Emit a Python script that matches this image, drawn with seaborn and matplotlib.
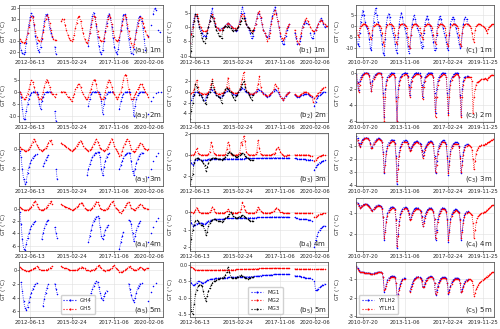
import numpy as np
import pandas as pd
import matplotlib
matplotlib.use("Agg")
import matplotlib.pyplot as plt
from matplotlib.lines import Line2D
import seaborn as sns

N = None
GAP = [N] * 12

# monthly sampling (mid-month)
months_ab = pd.date_range("2011-10-01", "2020-12-01", freq="MS") + pd.Timedelta(days=14)
months_c = pd.date_range("2010-01-01", "2020-09-01", freq="MS") + pd.Timedelta(days=14)

ticks_ab = ["2012-06-13", "2015-02-24", "2017-11-06", "2020-02-06"]
ticks_c = ["2010-07-20", "2013-11-06", "2017-02-24", "2019-11-25"]

# ---------------- column a : GH4 / GH5 (Oct 2011 - Dec 2020) ----------------
gh4_1m = [
    -12, -18, -21,
    -22, -20, -12, -3, 5, 12, 16, 13, 5, -5, -12, -18,
    -20, -15, -8, 0, 8, 14, 15, 10, 2, -3, -6, N,
    -15, -22, N, N, N, N, N, N, N, N, N, N,
    *GAP,
    N, N, -14, -3, 6, 13, 16, 12, 4, -6, -14, -20,
    -22, -18, -10, -1, 7, 13, 15, 11, 3, -7, -15, -20,
    -22, -17, -9, 0, 8, 14, 15, 10, 2, -8, -15, -21,
    -22, -17, -8, 0, 7, 12, 13, 8, 2, -8, -18, N,
    -5, N, 5, N, 15, 20, 18, N, 0, -2, N, N,
]
gh5_1m = [
    -8, -10, -11,
    -12, -11, -8, -3, 3, 9, 13, 12, 6, -1, -6, -9,
    -10, -10, -7, -2, 4, 10, 14, 12, 7, 0, -5, -8,
    -9, -9, N, N, N, 8, 10, 10, 5, 0, -4, -7,
    -9, -10, -8, -4, 2, 7, 12, 13, 8, 2, -3, -8,
    -11, -12, -9, -3, 3, 9, 13, 12, 6, -1, -6, -9,
    -10, -10, -7, -2, 4, 10, 14, 12, 6, -1, -6, -9,
    -10, -9, -6, -1, 5, 10, 14, 12, 6, -1, -7, -12,
    -15, -13, -8, -2, 4, 9, 12, 11, 7, 3, -1, -4,
    -6, N, N, N, N, N, N, N, N, N, N, N,
]
gh4_2m = [
    0, -2, -7,
    -11, -11, -8, -5, -3, -1.5, -0.5, 0, 0, 0, -0.3, -1,
    -5, -7, -4, -2, -1, -0.3, 0, 0, 0, 0, N, N,
    -8, -12, N, N, N, N, N, N, N, N, N, N,
    *GAP,
    N, N, -6, -3, -1, -0.3, 0, 0, 0, 0, 0, -1,
    -4, -9, -5, -2.5, -1, -0.3, 0, 0, 0, 0, N, N,
    N, N, -7, -4, -2, -1, -0.3, 0, 0, 0, 0, N,
    -3, -10, -6, -3, -1.5, -0.5, 0, 0, 0, 0, N, N,
    -9, N, -4, N, -2, N, -0.5, N, 0, N, 0, N,
]
gh5_2m = [
    0, -1, -2,
    -3, -3, -2, -1, 1, 3, 5, 4, 2, 0, -1, -2,
    -3, -3, -2, 0, 2, 4, 5, 4, 2, 0, -1, -1,
    -2, -1, N, N, N, 0, 0, 0, 0, -1, -2, -2,
    -3, -4, -2, -1, 1, 2, 3, 3, 2, 0, -1, -2,
    -3, -3, -2, 0, 1, 3, 5, 5, 3, 0, -1, -2,
    -3, -3, -2, 0, 2, 4, 5, 4, 2, 0, -1, -2,
    -3, -2, -1, 0, 2, 5, 7, 7, 5, 1, -1, -3,
    -3, -2, -1, 0, 1, 2, 3, 3, 2, 1, 0, -1,
    -2, N, N, N, N, N, N, N, N, N, N, N,
]
gh4_3m = [
    -0.5, -2, -5,
    -7.5, -8.5, -8, -6, -4.5, -3.5, -2.8, -2.2, -1.8, -1.5, -1.2, N,
    N, N, N, -4.3, -3.5, -2.7, -2.1, -1.5, N, N, N, N,
    N, -5, -7.5, N, N, N, N, N, N, N, N, N,
    *GAP,
    N, -6.5, -5, -3.8, -2.8, -2, -1.5, -1.1, -0.9, -0.8, -0.8, -2,
    -5, -6.5, -4.5, -3, -2, -1.3, -1, N, N, N, N, N,
    N, N, -5, -4, -3, -2.2, -1.6, -1.2, -1, -0.9, -0.9, -3,
    -5.5, -6.5, -5, -3.5, -2.5, -1.8, -1.3, -1, -0.9, N, N, N,
    -7, N, -5, N, -3, N, -1.8, N, -1.1, N, N, N,
]
gh5_3m = [
    0.5, 0, 0,
    -0.3, -0.5, -0.5, -0.3, 0, 0.5, 1, 1.8, 2.5, 2, 1, 0.5,
    0, -0.3, -0.5, -0.3, 0, 0.3, 0.8, 1.5, 2, 2.2, 1.2, N,
    N, N, N, N, N, 1.5, 1.2, 1, 0.8, 0.5, 0.3, 0,
    -0.2, -0.5, -0.3, 0, 0.3, 0.8, 1.3, 1.8, 2, 1.5, 0.8, 0.3,
    0, -0.3, -0.5, -0.3, 0, 0.5, 1.2, 1.8, 2.5, 1.8, 1, 0.3,
    0, -0.3, -0.5, -0.3, 0, 0.5, 1.2, 1.8, 2.5, 1.8, 0.8, 0,
    -0.5, -1, -1.8, -1.5, -0.5, 0.5, 1.2, 2, 2.5, 2, 1, 0,
    -0.5, -0.8, -0.5, 0, 0.5, 1, 1.5, 1.2, 0.8, 0.3, 0, -0.2,
    0, N, N, N, N, N, N, N, N, N, N, N,
]
gh4_4m = [
    -0.5, -2.5, -5,
    -6.5, -6.8, -5.8, -4.8, -4, -3.3, -2.8, -2.5, -2.2, -2, N, N,
    N, N, -5, -4, -3.2, -2.5, -2, -1.8, N, N, N, N,
    -3, -4, -4.8, N, N, N, N, N, N, N, N, N,
    *GAP,
    N, N, -5.5, -4.5, -3.5, -2.7, -2, -1.6, -1.3, -1.2, -1.5, -3,
    -4.5, -5, -4.2, -3.5, -3, -2.6, N, N, N, N, N, N,
    N, N, -6.5, -5.5, -4.5, -3.8, N, N, N, -1.8, -2, -2.5,
    -4, -5.3, -4.5, -3.5, -2.8, -2.3, -2, N, N, N, N, N,
    -5.5, N, -4, N, -3, N, -2, N, -1.5, N, N, N,
]
gh5_4m = [
    0.3, 0.1, 0,
    -0.1, -0.2, -0.2, -0.1, 0, 0.2, 0.4, 0.7, 1.1, 1.3, 0.8, 0.3,
    0, -0.1, -0.2, -0.1, 0, 0.2, 0.4, 0.7, 1, 1.3, 0.8, N,
    N, N, N, N, N, 0.8, 0.6, 0.5, 0.4, 0.3, 0.2, 0.1,
    0, -0.1, -0.1, 0, 0.1, 0.3, 0.5, 0.8, 1, 1, 0.6, 0.2,
    0, -0.1, -0.2, -0.1, 0, 0.2, 0.5, 0.8, 1.2, 1.2, 0.7, 0.2,
    0, -0.1, -0.2, -0.1, 0, 0.2, 0.5, 0.8, 1.1, 1.3, 0.7, 0.2,
    0, -0.2, -0.5, -0.6, -0.4, -0.1, 0.3, 0.6, 1, 1.2, 0.7, 0.2,
    0, -0.1, -0.1, 0.1, 0.3, 0.6, 0.8, 0.6, 0.4, 0.2, 0.1, 0,
    0, N, N, N, N, N, N, N, N, N, N, N,
]
gh4_5m = [
    N, -1.8, -3,
    -4.5, -5.5, -5.8, -5.3, -4.6, -3.9, -3.3, -2.8, -2.4, -2.1, -1.9, N,
    N, N, N, -5.2, -4.2, -3.3, -2.6, -2.1, N, N, N, N,
    -2, -2.8, -3.5, N, N, N, N, N, N, N, N, N,
    *GAP,
    N, N, -4.7, -4.1, -3.4, -2.8, -2.3, -1.9, -1.7, -1.8, -2.5, -3.3,
    -4, -4.4, -3.8, -3.3, -3, N, N, N, N, N, N, N,
    N, N, N, N, N, N, N, N, N, -2, -2.8, -3.6,
    -4.3, -4.6, -4, -3.3, -2.7, -2.3, -2, -1.9, N, N, N, N,
    -4.5, N, -3.2, N, -2.3, N, -1.9, N, N, N, N, N,
]
gh5_5m = [
    0.4, 0.2, 0.1,
    0, -0.1, -0.2, -0.2, -0.2, -0.1, 0, 0.1, 0.2, 0.3, 0.5, 0.4,
    0.1, 0, -0.1, -0.1, -0.1, 0, 0, 0.1, 0.2, 0.3, 0.5, N,
    N, N, N, N, N, 0.5, 0.4, 0.3, 0.2, 0.2, 0.1, 0,
    0, -0.1, -0.1, -0.1, -0.1, 0, 0.1, 0.2, 0.3, 0.4, 0.3, 0.2,
    0, -0.1, -0.1, -0.2, -0.1, 0, 0, 0.1, 0.3, 0.5, 0.6, 0.4,
    0.2, 0, -0.1, -0.2, -0.1, 0, 0, 0.1, 0.3, 0.5, 0.6, 0.3,
    0.1, -0.1, -0.3, -0.4, -0.3, -0.2, 0, 0.1, 0.2, 0.4, 0.5, 0.3,
    0.1, -0.1, -0.1, 0, 0.1, 0.2, 0.4, 0.3, 0.1, 0, 0.1, 0.2,
    0.3, N, N, N, N, N, N, N, N, N, N, N,
]

# ---------------- column b : MG1 / MG2 / MG3 (same monthly grid) ----------------
mg1_1m = [
    N, N, N,
    N, -5.5, -2, 1, 3, 4.5, 4, 2, 0, -1, -2, -3,
    -3, -3, -2, 0, 2, 5, 6.5, 3, 1, 0, -0.5, -1,
    -1, -0.5, -0.5, 0, 0.5, 1, 1.5, 1, 0.5, 0, -0.5, -1,
    -1.5, -1, 0, 2, 5, 7, 5, 3, 1, 0, -1, -2,
    -4, -3, -1, 1, 3, 5, 4.5, 3, 1, -1, -2, -3,
    -3.5, -3, -1, 2, 4, 6, 7, 5, 2, 0, -3, -5,
    -6, -6, -3, -1, 0, 1, N, N, N, -2, -4, -6,
    -6, -5, -3, 0, 1, 2, 1.5, 1, N, -2, -4, -4,
    -2, -1, 0, 1, 2, 3, 2.5, 1, 0, 0.5, N, N,
]
mg2_1m = [
    N, N, N,
    N, -5.5, -2.5, 0, 2, 4, 4.5, 3, 1, 0, -1, -1.5,
    -1.5, -1.5, -1, 0, 2, 4, 4.5, 3, 1.5, 0, -0.5, -1,
    -1, -1, -0.5, 0, 0.5, 1, 1.5, 1, 0.5, 0, -0.5, -0.5,
    -1, -0.5, 0.5, 2, 4, 4.5, 4, 2.5, 1, 0, -0.5, -1,
    -1.5, -1.5, -0.5, 1, 3, 5, 5.5, 3.5, 1, -1, -2, -3,
    -5, -4, -2, 1, 3, 4.5, 6, 4.5, 2, 0, -2, -4,
    -4.5, -4, -2, -0.5, 0.5, 1, N, N, N, -1, -3, -5,
    -6, -4, -2, 0, 1.5, 2.5, 3, 2, 1, 0, -1, -1.5,
    -1.5, -1, 0, 1, 2, 2.5, 2, 1.5, 1, 0.5, 0.2, N,
]
mg3_1m = [
    N, N, N,
    N, -10, -8.5, -3, 2, 4.5, 4, 2, 0, -2, -4, -5,
    -5.5, -4, -2, 0, 2, 4, 3.5, 2, 0.5, -1, -2, -3,
    -3, -4, -1, 0, 0.5, 0, 0.5, 0, -0.5, -1, -1.5, -1,
    -1, -0.5, 0, 1, 2, 3, 3, 2, 1, 0, -0.5, -1,
    -2, -1, N, N, N, N, N, N, N, N, N, N,
    *GAP, *GAP, *GAP, *GAP,
]
mg1_2m = [
    N, N, N,
    N, -2, -1.5, -0.8, -0.3, 0, 0, 0, -0.2, -0.5, -1, -1.5,
    -1.5, -1, -0.5, -0.2, 0, 0.5, 0.3, 0, -0.2, -0.5, -0.8, -1,
    -1, -0.8, -0.5, -0.2, 0, 0.2, 0.5, 0.3, 0, -0.2, -0.3, -0.5,
    -0.5, -0.3, 0, 0.3, 0.5, 0.8, 0.5, 0.2, 0, -0.2, -0.3, -0.4,
    -0.5, -0.4, -0.2, 0, 0.2, 0.5, 0.4, 0.2, 0, -0.2, -0.4, -0.8,
    -1, -0.8, -0.5, -0.2, 0, 0.2, 0.5, 0.3, 0, -0.3, -0.8, -1.2,
    -1.5, -1.2, -0.8, -0.4, -0.2, 0, N, N, N, -0.5, -0.8, -1,
    -1, -0.8, -0.6, -0.5, -0.4, -0.3, -0.3, -0.4, -0.6, -0.8, -1, N,
    -2.6, -1.8, -1.2, -0.8, -0.5, -0.3, -0.1, 0, 0, N, N, N,
]
mg2_2m = [
    N, N, N,
    N, -0.3, -0.2, 0, 0.5, 1.5, 2.2, 1, 0, -0.2, -0.3, -0.3,
    -0.3, -0.3, -0.2, 0, 0.5, 1.5, 2.4, 1, 0.2, -0.2, -0.3, -0.3,
    -0.3, -0.2, -0.1, 0, 0.3, 1, 2.7, 0.8, 0.2, 0, -0.1, -0.2,
    -0.2, -0.1, 0, 0.5, 1.5, 2.5, 3.7, 1.5, 0.3, 0, -0.2, -0.3,
    -0.3, -0.3, -0.2, 0, 0.5, 1.5, 3, 1, 0, -0.3, -0.5, -0.6,
    -0.8, -0.6, -0.4, -0.2, 0, 0.5, 1.5, 1.2, 0.8, 0, -0.8, -1.2,
    -1.5, -1.2, -0.6, -0.3, -0.1, 0, N, N, N, -0.4, -0.6, -0.8,
    -0.8, -0.6, -0.4, -0.2, 0, 0, 0, -0.1, -0.3, -0.5, -0.8, -1.8,
    -1.2, -0.8, -0.5, -0.2, 0, 0.3, 0.6, 0.8, 1, N, N, N,
]
mg3_2m = [
    N, N, N,
    N, -5, -3.5, -2, -0.5, 1.5, 1, 0, -0.5, -0.5, -1, -1.5,
    -2, -2.2, -1, -0.3, 0, 1, 2, 0.5, 0, -0.5, -0.8, -1,
    -1.2, -2, -0.5, 0, 0.5, 0.8, 0.5, 0.2, 0, -0.5, -1, -1.5,
    -0.8, -0.5, 0, 0.5, 1, 1.5, 2, 1, 0.2, 0, -0.5, -1,
    -1.5, -0.5, N, N, N, N, N, N, N, N, N, N,
    *GAP, *GAP, *GAP, *GAP,
]
mg1_3m = [
    N, N, N,
    N, -0.5, -0.8, -1, -0.7, -0.5, -0.45, -0.4, -0.4, -0.5, -0.55, -0.5,
    -0.45, -0.45, -0.45, -0.4, -0.4, -0.4, -0.4, -0.4, -0.4, -0.4, -0.4, -0.4,
    -0.4, -0.4, -0.4, -0.4, -0.4, -0.38, -0.38, -0.38, -0.38, -0.38, -0.38, -0.38,
    -0.38, -0.38, -0.37, -0.37, -0.36, -0.36, -0.36, -0.35, -0.35, -0.35, -0.35, -0.35,
    -0.35, -0.35, -0.34, -0.34, -0.33, -0.33, -0.32, -0.32, -0.32, -0.31, -0.31, -0.31,
    -0.3, -0.3, -0.3, -0.3, -0.29, -0.29, -0.28, -0.28, -0.28, -0.28, -0.28, -0.28,
    -0.3, -0.3, -0.3, -0.3, -0.3, -0.3, N, N, N, -0.35, -0.35, -0.4,
    -0.42, -0.42, -0.42, -0.42, -0.42, -0.42, -0.45, -0.45, -0.45, -0.45, -0.45, N,
    -1.45, -1.2, -1, -0.85, -0.75, -0.65, -0.6, -0.55, -0.5, N, N, N,
]
mg2_3m = [
    N, N, N,
    N, 0, 0, 0, 0.05, 0.3, 0.6, 0.2, 0.05, 0, 0, 0,
    0, 0, 0, 0.05, 0.3, 1.2, 0.8, 0.2, 0.05, 0, 0, 0,
    0, 0, 0, 0, 0.05, 0.5, 1.2, 0.9, 0.05, 0, 0, 0,
    0, 0, 0.05, 0.2, 1.2, 0.9, 1.8, 1.3, 0.3, 0.05, 0, 0,
    0, 0, 0, 0.05, 0.3, 1.4, 0.6, 0.1, 0, 0, 0, 0,
    0, 0, 0, 0, 0.05, 0.1, 0.2, 0.5, 0.7, 0.5, 0.3, 0.1,
    -0.05, -0.1, -0.1, -0.05, 0, 0, N, N, N, 0, 0, 0,
    0, 0, 0, 0, 0, 0, 0, 0, -0.05, -0.1, -0.1, N,
    -0.6, -0.45, -0.35, -0.25, -0.15, -0.1, -0.05, 0, 0, N, N, N,
]
mg3_3m = [
    N, N, N,
    N, -2.8, -2.3, -1.8, -0.8, -0.4, -0.3, -0.3, -0.4, -0.5, -0.6, -0.8,
    -1, -1.5, -1.2, -0.8, -0.5, -0.4, -0.3, -0.3, -0.3, -0.35, -0.4, -0.4,
    -0.4, -0.45, -0.4, -0.3, -0.2, 0, 0.2, 0.3, 0.2, 0.1, 0, -0.1,
    -0.2, -0.2, -0.1, 0, 0.1, 0.2, 0.1, -0.1, -0.2, -0.3, -0.4, -0.5,
    -0.5, -0.45, N, N, N, N, N, N, N, N, N, N,
    *GAP, *GAP, *GAP, *GAP,
]
mg1_4m = [
    N, N, N,
    N, -0.2, -0.6, -0.8, -0.75, -0.7, -0.65, -0.6, -0.6, -0.6, -0.62, -0.65,
    -0.65, -0.6, -0.55, -0.5, -0.48, -0.45, -0.42, -0.4, -0.4, -0.4, -0.4, -0.4,
    -0.4, -0.4, -0.38, -0.37, -0.36, -0.35, -0.35, -0.35, -0.35, -0.35, -0.35, -0.35,
    -0.35, -0.35, -0.34, -0.34, -0.33, -0.33, -0.32, -0.32, -0.32, -0.32, -0.32, -0.32,
    -0.32, -0.32, -0.31, -0.31, -0.3, -0.3, -0.3, -0.3, -0.3, -0.3, -0.3, -0.3,
    -0.29, -0.29, -0.28, -0.28, -0.27, -0.27, -0.27, -0.27, -0.27, -0.27, -0.27, -0.27,
    -0.28, -0.28, -0.28, -0.28, -0.28, -0.28, N, N, N, -0.3, -0.32, -0.35,
    -0.38, -0.4, -0.4, -0.4, -0.4, -0.4, -0.4, -0.42, -0.42, -0.45, -0.5, N,
    -2, -1.6, -1.35, -1.15, -1, -0.9, -0.85, -0.8, -0.78, N, N, N,
]
mg2_4m = [
    N, N, N,
    N, 0, -0.02, -0.03, 0, 0.1, 0.25, 0.1, 0, -0.03, -0.03, -0.03,
    -0.04, -0.04, -0.04, -0.03, 0, 0.1, 0.3, 0.15, 0, -0.03, -0.03, -0.03,
    -0.03, -0.03, -0.03, -0.03, 0, 0.05, 0.15, 0.05, 0, -0.03, -0.03, -0.03,
    -0.03, -0.03, -0.02, 0, 0.15, 0.55, 0.35, 0.1, 0, -0.03, -0.03, -0.03,
    -0.04, -0.04, -0.03, 0, 0.1, 0.3, 0.2, 0.05, 0, -0.03, -0.03, -0.03,
    -0.04, -0.04, -0.03, -0.02, 0, 0.05, 0.15, 0.25, 0.2, 0.1, 0.02, -0.02,
    -0.05, -0.06, -0.06, -0.05, -0.04, -0.04, N, N, N, -0.05, -0.05, -0.05,
    -0.06, -0.06, -0.06, -0.06, -0.06, -0.06, -0.06, -0.06, -0.06, -0.06, -0.06, N,
    -0.3, -0.25, -0.2, -0.15, -0.12, -0.1, -0.08, -0.07, -0.06, N, N, N,
]
mg3_4m = [
    N, N, N,
    N, -2.1, -1.5, -1, -0.7, -0.5, -0.45, -0.5, -0.6, -0.7, -0.7, -0.8,
    -1, -1.3, -1.1, -0.8, -0.6, -0.5, -0.45, -0.4, -0.4, -0.45, -0.5, -0.5,
    -0.5, -0.55, -0.5, -0.4, -0.35, -0.3, -0.2, -0.1, 0, -0.1, -0.2, -0.3,
    -0.35, -0.35, -0.3, -0.25, -0.2, -0.15, -0.2, -0.3, -0.35, -0.4, -0.45, -0.5,
    -0.5, -0.5, N, N, N, N, N, N, N, N, N, N,
    *GAP, *GAP, *GAP, *GAP,
]
mg1_5m = [
    N, N, N,
    N, -0.4, -0.55, -0.6, -0.6, -0.58, -0.55, -0.5, -0.5, -0.52, -0.55, -0.55,
    -0.52, -0.5, -0.47, -0.45, -0.44, -0.43, -0.42, -0.41, -0.4, -0.4, -0.4, -0.4,
    -0.4, -0.4, -0.39, -0.39, -0.38, -0.38, -0.37, -0.37, -0.37, -0.37, -0.37, -0.37,
    -0.37, -0.37, -0.36, -0.36, -0.35, -0.35, -0.35, -0.35, -0.35, -0.35, -0.35, -0.35,
    -0.35, -0.35, -0.34, -0.34, -0.33, -0.33, -0.32, -0.32, -0.31, -0.31, -0.31, -0.31,
    -0.3, -0.3, -0.3, -0.29, -0.29, -0.28, -0.28, -0.28, -0.28, -0.28, -0.28, -0.28,
    -0.28, -0.28, -0.28, -0.28, -0.28, -0.28, N, N, N, -0.32, -0.33, -0.33,
    -0.33, -0.34, -0.35, -0.36, -0.37, -0.38, -0.39, -0.4, -0.4, -0.4, -0.42, N,
    -0.5, -0.78, -0.76, -0.72, -0.68, -0.65, -0.62, -0.6, -0.58, N, N, N,
]
mg2_5m = [
    N, N, N,
    N, -0.04, -0.05, -0.08, -0.12, -0.14, -0.15, -0.15, -0.15, -0.15, -0.15, -0.15,
    -0.15, -0.15, -0.15, -0.15, -0.15, -0.15, -0.15, -0.15, -0.15, -0.15, -0.15, -0.15,
    -0.14, -0.14, -0.14, -0.14, -0.14, -0.14, -0.14, -0.14, -0.14, -0.14, -0.14, -0.14,
    -0.13, -0.13, -0.13, -0.13, -0.13, -0.13, -0.12, -0.12, -0.12, -0.12, -0.12, -0.12,
    -0.12, -0.12, -0.11, -0.11, -0.11, -0.11, -0.1, -0.1, -0.1, -0.1, -0.1, -0.1,
    -0.1, -0.1, -0.1, -0.1, -0.09, -0.09, -0.09, -0.09, -0.09, -0.09, -0.1, -0.1,
    -0.1, -0.1, -0.1, -0.1, -0.1, -0.1, N, N, N, -0.11, -0.11, -0.11,
    -0.12, -0.12, -0.12, -0.12, -0.12, -0.12, -0.12, -0.12, -0.12, -0.12, -0.12, N,
    -0.13, -0.13, -0.13, -0.12, -0.12, -0.12, -0.12, -0.12, -0.12, N, N, N,
]
mg3_5m = [
    N, N, N,
    N, -0.4, -1.4, -1.5, -1.2, -0.9, -0.75, -0.65, -0.6, -0.6, -0.65, -0.8,
    -1, -1.1, -0.95, -0.8, -0.7, -0.6, -0.55, -0.5, -0.48, -0.45, -0.43, -0.42,
    -0.4, -0.4, -0.38, -0.35, -0.3, -0.2, -0.05, -0.2, -0.35, -0.4, -0.4, -0.4,
    -0.38, -0.36, -0.35, -0.33, -0.3, -0.32, -0.35, -0.38, -0.4, -0.42, -0.4, -0.38,
    -0.36, -0.35, N, N, N, N, N, N, N, N, N, N,
    *GAP, *GAP, *GAP, *GAP,
]

# ---------------- column c : YTLH2 / YTLH1 (Jan 2010 - Sep 2020) ----------------
ytlh2_1m = [
    -6, -8, -9, -3, 2, 5, 7, 5, 2, 0, -1, -3,
    -6, -10, -11, -4, 2, 6, 8, 5, 2, 0, -2, -4,
    -8, -12, -13, -6, 1, 4, 5.5, 4, 1, -1, -3, -5,
    -8, -11, -12, -5, 1, 4, 6, 4, 1, -1, -3, -5,
    -9, -12, -10, -4, 1, 3, 5, 3, 1, -1, -2, -4,
    -7, -10, -9, -3, 1, 3, 4.5, 3, 1, 0, -2, -4,
    -7, -11, -10, -4, 1, 3, 4.5, 3, 1, -1, -3, -5,
    -7, -10, -11, -4, 1, 3, 4, 3, 1, -1, -3, -5,
    -8, -10, -9, -3, 1, 3, 4, 3, 1, N, N, N,
    *GAP,
    N, N, N, N, N, N, N, N, N,
]
ytlh1_1m = [
    -2, -4, -5, -1, 0, 0.5, 1, 1, 0.8, 0.3, 0, -1,
    -3, -5, -6, -2, 0, 0.5, 1, 1, 0.8, 0.3, 0, -1,
    -3, -7, -9, -3, -0.5, 0.5, 1, 1, 0.8, 0.3, 0, -1,
    -4, -7, -8, -3, -0.5, 0.5, 1, 1, 0.8, 0.3, 0, -1,
    -5, -9, -10, -4, -0.5, 0.5, 1, 1, 0.8, 0.3, 0, -1,
    -3, -5, -6, -2, 0, 0.5, 1, 1, 0.8, 0.3, 0, -1,
    -4, -7, -8, -3, -0.5, 0.5, 1, 1, 0.8, 0.3, 0, -1,
    -4, -8, -9, -3, -0.5, 0.5, 1, 1, 0.8, 0.3, 0, -1,
    -4, -8, -9, -3, -0.5, 0.5, 1, 1, 0.8, 0.3, 0, -1,
    -3, -6, -7, -2, 0, 0.5, 1, 1, 0.8, 0.3, 0, -0.5,
    -1, -2, -3, -1.5, -0.5, 0, 0.5, 1, 0.8,
]
ytlh2_2m = [
    -0.2, -1.2, -2.2, -1, -0.5, -0.3, -0.2, -0.1, 0, 0, 0, -0.1,
    -0.3, -1.2, -2.3, -1, -0.5, -0.3, -0.2, -0.1, 0, 0, 0, -0.1,
    -0.5, -2.5, -5.5, -2, -1, -0.6, -0.4, -0.2, -0.1, 0, 0, -0.1,
    -0.5, -3, -6, -2, -1, -0.6, -0.4, -0.2, -0.1, 0, 0, -0.1,
    -0.4, -1.5, -2.8, -1.2, -0.6, -0.4, -0.2, -0.1, 0, 0, 0, -0.1,
    -0.4, -1.5, -3, -1.2, -0.6, -0.4, -0.2, -0.1, 0, 0, 0, -0.1,
    -0.5, -2.5, -5, -2, -1, -0.6, -0.4, -0.2, -0.1, 0, 0, -0.1,
    -0.5, -2.5, -5, -2, -1, -0.6, -0.4, -0.2, -0.1, 0, 0, -0.1,
    -0.5, -2.8, -5.2, -2, -1, -0.6, -0.5, -0.4, -0.4, N, N, N,
    *GAP,
    N, N, N, N, N, N, N, N, N,
]
ytlh1_2m = [
    -0.3, -1.3, -2.4, -1.5, -0.8, -0.5, -0.3, -0.2, -0.1, -0.1, -0.1, -0.2,
    -0.4, -1.3, -2.3, -1.5, -0.8, -0.5, -0.3, -0.2, -0.1, -0.1, -0.1, -0.2,
    -0.6, -3, -6, -3, -1.5, -0.9, -0.6, -0.4, -0.3, -0.2, -0.2, -0.3,
    -0.6, -3.5, -6, -3, -1.5, -0.9, -0.6, -0.4, -0.3, -0.2, -0.2, -0.3,
    -0.5, -1.8, -3, -1.8, -1, -0.6, -0.4, -0.3, -0.2, -0.2, -0.2, -0.3,
    -0.5, -1.8, -3.2, -1.8, -1, -0.6, -0.4, -0.3, -0.2, -0.2, -0.2, -0.3,
    -0.6, -3, -5.5, -3, -1.5, -0.9, -0.6, -0.4, -0.3, -0.2, -0.2, -0.3,
    -0.6, -3, -5.2, -3, -1.5, -0.9, -0.6, -0.4, -0.3, -0.2, -0.2, -0.3,
    -0.6, -3, -5.5, -3, -1.5, -0.9, -0.7, -0.6, -0.5, -0.5, -0.5, -0.6,
    -1, -5, -3, -2, -1.5, -1.2, -1.1, -1, -0.9, -0.8, -0.8, -0.8,
    -0.7, -0.8, -0.9, -0.7, -0.5, -0.4, -0.35, -0.3, -0.3,
]
ytlh2_3m = [
    -0.3, -0.45, -0.8, -1.05, -0.8, -0.6, -0.5, -0.45, -0.4, -0.4, -0.4, -0.45,
    -0.55, -0.8, -1.15, -1.1, -0.85, -0.7, -0.6, -0.5, -0.45, -0.45, -0.5, -0.55,
    -0.7, -1.5, -3.1, -2.2, -1.4, -1, -0.8, -0.7, -0.6, -0.55, -0.55, -0.6,
    -0.8, -1.8, -3.9, -2.5, -1.5, -1.1, -0.9, -0.75, -0.65, -0.6, -0.6, -0.65,
    -0.8, -1.1, -1.3, -1.2, -1, -0.85, -0.75, -0.7, -0.65, -0.65, -0.7, -0.8,
    -0.9, -1.3, -1.8, -1.5, -1.2, -1, -0.85, -0.75, -0.7, -0.65, -0.65, -0.7,
    -0.9, -1.8, -3.1, -2.2, -1.4, -1.05, -0.85, -0.75, -0.65, -0.6, -0.6, -0.7,
    -0.9, -1.8, -3.2, -2.2, -1.4, -1.05, -0.9, -0.8, -0.75, -0.75, -0.75, -0.8,
    -1, -1.8, -3.1, -2.2, -1.5, -1.1, -0.95, -0.9, -0.85, N, N, N,
    *GAP,
    N, N, N, N, N, N, N, N, N,
]
ytlh1_3m = [
    -0.5, -0.6, -0.9, -1.1, -0.9, -0.7, -0.6, -0.5, -0.45, -0.45, -0.45, -0.5,
    -0.6, -0.85, -1.2, -1.15, -0.9, -0.75, -0.65, -0.55, -0.5, -0.5, -0.55, -0.6,
    -0.75, -1.6, -3, -2.5, -1.6, -1.2, -0.95, -0.8, -0.7, -0.65, -0.65, -0.7,
    -0.85, -1.9, -3.7, -2.8, -1.8, -1.3, -1, -0.85, -0.75, -0.7, -0.7, -0.75,
    -0.9, -1.2, -1.4, -1.35, -1.1, -0.95, -0.85, -0.8, -0.75, -0.75, -0.8, -0.85,
    -1, -1.4, -1.9, -1.7, -1.35, -1.1, -0.95, -0.85, -0.8, -0.75, -0.75, -0.8,
    -1, -1.9, -3, -2.5, -1.6, -1.2, -1, -0.85, -0.75, -0.7, -0.7, -0.8,
    -1, -1.9, -3.1, -2.5, -1.6, -1.2, -1, -0.9, -0.85, -0.85, -0.85, -0.9,
    -1.1, -1.9, -3, -2.5, -1.7, -1.3, -1.1, -1, -0.95, -0.95, -1, -1.1,
    -1.3, -2, -2.8, -2.2, -1.6, -1.3, -1.15, -1.05, -1, -0.95, -0.95, -0.95,
    -0.9, -0.85, -0.8, -0.75, -0.7, -0.65, -0.6, -0.55, -0.5,
]
ytlh2_4m = [
    -0.45, -0.5, -0.6, -0.72, -0.68, -0.62, -0.58, -0.55, -0.55, -0.55, -0.56, -0.6,
    -0.65, -0.72, -0.82, -0.85, -0.78, -0.7, -0.65, -0.62, -0.6, -0.6, -0.62, -0.66,
    -0.75, -1.2, -2.3, -1.8, -1.3, -1, -0.85, -0.75, -0.7, -0.68, -0.68, -0.72,
    -0.8, -1.3, -2.7, -2, -1.4, -1.05, -0.9, -0.8, -0.72, -0.7, -0.7, -0.75,
    -0.85, -1, -1.3, -1.2, -1, -0.9, -0.8, -0.75, -0.72, -0.72, -0.75, -0.82,
    -0.9, -1.15, -1.6, -1.4, -1.15, -0.95, -0.85, -0.78, -0.74, -0.72, -0.74, -0.8,
    -0.9, -1.3, -2.3, -1.8, -1.3, -1.05, -0.9, -0.8, -0.74, -0.72, -0.74, -0.8,
    -0.9, -1.3, -2.4, -1.8, -1.3, -1.05, -0.92, -0.85, -0.8, -0.8, -0.82, -0.88,
    -0.95, -1.3, -2.3, -1.8, -1.35, -1.1, -0.98, -0.92, -0.9, N, N, N,
    *GAP,
    N, N, N, N, N, N, N, N, N,
]
ytlh1_4m = [
    -0.48, -0.52, -0.62, -0.74, -0.7, -0.64, -0.6, -0.57, -0.56, -0.56, -0.58, -0.62,
    -0.67, -0.74, -0.84, -0.87, -0.8, -0.72, -0.67, -0.64, -0.62, -0.62, -0.64, -0.68,
    -0.78, -1.2, -2.2, -1.9, -1.45, -1.12, -0.95, -0.84, -0.77, -0.73, -0.72, -0.75,
    -0.83, -1.35, -2.6, -2.1, -1.55, -1.2, -1, -0.88, -0.8, -0.76, -0.75, -0.78,
    -0.88, -1.05, -1.35, -1.28, -1.1, -0.98, -0.88, -0.82, -0.78, -0.77, -0.79, -0.85,
    -0.92, -1.2, -1.6, -1.5, -1.25, -1.05, -0.93, -0.85, -0.8, -0.77, -0.78, -0.83,
    -0.92, -1.3, -2.2, -1.9, -1.45, -1.15, -0.98, -0.87, -0.8, -0.77, -0.78, -0.83,
    -0.93, -1.35, -2.3, -1.9, -1.45, -1.15, -1, -0.92, -0.87, -0.86, -0.87, -0.92,
    -1, -1.35, -2.2, -1.9, -1.5, -1.2, -1.05, -0.98, -0.95, -0.95, -0.97, -1.02,
    -1.1, -1.5, -2.2, -1.8, -1.45, -1.25, -1.15, -1.08, -1.03, -1, -0.98, -0.95,
    -0.92, -0.88, -0.84, -0.8, -0.75, -0.7, -0.65, -0.6, -0.58,
]
ytlh2_5m = [
    -0.25, -0.4, -0.5, -0.58, -0.6, -0.6, -0.6, -0.62, -0.63, -0.65, -0.65, -0.65,
    -0.66, -0.68, -0.7, -0.7, -0.68, -0.65, -0.64, -0.62, -0.6, -0.6, -0.6, -0.6,
    -0.65, -0.9, -1.7, -1.5, -1.25, -1.05, -0.95, -0.88, -0.84, -0.82, -0.82, -0.84,
    -0.9, -1.2, -2.05, -1.8, -1.5, -1.25, -1.1, -1, -0.95, -0.92, N, N,
    N, N, -1.65, -1.45, -1.25, -1.1, -1, -0.92, -0.88, -0.85, -0.85, -0.88,
    -0.92, -1.05, -1.45, -1.35, -1.2, -1.05, -0.95, -0.9, -0.86, -0.84, -0.84, -0.87,
    -0.95, -1.2, -1.85, -1.6, -1.35, -1.15, -1.02, -0.95, -0.9, -0.88, -0.88, -0.9,
    -0.95, -1.2, -1.8, -1.6, -1.35, -1.15, -1.05, -0.98, -0.94, -0.92, -0.92, -0.95,
    -1, -1.2, -1.7, -1.55, -1.35, -1.2, -1.1, -1.02, -0.98, N, N, N,
    *GAP,
    N, N, N, N, N, N, N, N, N,
]
ytlh1_5m = [
    -0.3, -0.42, -0.52, -0.6, -0.62, -0.62, -0.62, -0.63, -0.64, -0.65, -0.66, -0.66,
    -0.67, -0.69, -0.71, -0.72, -0.7, -0.67, -0.65, -0.63, -0.62, -0.61, -0.61, -0.62,
    -0.66, -0.9, -1.6, -1.55, -1.35, -1.15, -1.02, -0.93, -0.88, -0.85, -0.85, -0.86,
    -0.92, -1.2, -1.95, -1.85, -1.6, -1.35, -1.18, -1.06, -1, -0.96, N, N,
    N, N, -1.7, -1.55, -1.35, -1.18, -1.06, -0.98, -0.93, -0.9, -0.9, -0.92,
    -0.96, -1.08, -1.45, -1.42, -1.28, -1.12, -1.02, -0.95, -0.9, -0.88, -0.88, -0.9,
    -0.98, -1.2, -1.8, -1.7, -1.45, -1.23, -1.08, -1, -0.95, -0.92, -0.92, -0.94,
    -0.98, -1.2, -1.75, -1.68, -1.45, -1.25, -1.12, -1.04, -0.99, -0.96, -0.96, -0.98,
    -1.03, -1.22, -1.7, -1.62, -1.45, -1.28, -1.16, -1.08, -1.03, -1, -1, -1.02,
    -1.08, -1.3, -1.9, -1.75, -1.55, -1.4, -1.3, -1.22, -1.15, -1.1, -1.05, -1,
    -0.95, -0.9, -0.85, -0.8, -0.75, -0.7, -0.66, -0.62, -0.6,
]

palette = {"GH4": "blue", "GH5": "red", "MG1": "blue", "MG2": "red", "MG3": "black",
           "YTLH2": "blue", "YTLH1": "red"}

sns.set_style("whitegrid", {"axes.edgecolor": "0.35", "grid.color": "0.88"})
plt.rcParams.update({
    "font.family": ["DejaVu Sans"],
    "font.size": 4,
    "axes.unicode_minus": False,
    "axes.linewidth": 0.6,
    "grid.linewidth": 0.4,
    "xtick.labelsize": 3.8,
    "ytick.labelsize": 3.6,
    "xtick.major.size": 1.5,
    "ytick.major.size": 1.2,
    "xtick.major.width": 0.4,
    "ytick.major.width": 0.4,
    "xtick.major.pad": 1.0,
    "ytick.major.pad": 0.5,
    "xtick.bottom": True,
    "ytick.left": True,
})

fig = plt.figure(figsize=(5, 3.29), dpi=100)
W, H = 500, 329
col_px = [(19, 163), (190, 328), (356, 494)]
row_px = [(5, 57), (69, 122), (133, 186), (198, 251), (262, 317)]
ylabel_x = [-0.066, -0.098, -0.092]

columns = [
    dict(letter="a", dates=months_ab, ticks=ticks_ab, xlim=("2011-09-28", "2020-12-31"),
         series=[[("GH4", gh4_1m), ("GH5", gh5_1m)],
                 [("GH4", gh4_2m), ("GH5", gh5_2m)],
                 [("GH4", gh4_3m), ("GH5", gh5_3m)],
                 [("GH4", gh4_4m), ("GH5", gh5_4m)],
                 [("GH4", gh4_5m), ("GH5", gh5_5m)]],
         ylims=[(-24.5, 23), (-12.4, 9.3), (-9.1, 3.9), (-6.9, 1.8), (-6.8, 1.1)],
         yticks=[[-20, -10, 0, 10, 20], [-10, -5, 0, 5], [-5, 0], [-6, -4, -2, 0], [-6, -4, -2, 0]],
         legend_anchor=(0.27, 0.0)),
    dict(letter="b", dates=months_ab, ticks=ticks_ab, xlim=("2012-02-10", "2020-11-29"),
         series=[[("MG1", mg1_1m), ("MG2", mg2_1m), ("MG3", mg3_1m)],
                 [("MG1", mg1_2m), ("MG2", mg2_2m), ("MG3", mg3_2m)],
                 [("MG1", mg1_3m), ("MG2", mg2_3m), ("MG3", mg3_3m)],
                 [("MG1", mg1_4m), ("MG2", mg2_4m), ("MG3", mg3_4m)],
                 [("MG1", mg1_5m), ("MG2", mg2_5m), ("MG3", mg3_5m)]],
         ylims=[(-10.5, 7.7), (-5.6, 4.3), (-2.95, 2.05), (-2.2, 0.8), (-1.6, 0.1)],
         yticks=[[-10, -5, 0, 5], [-4, -2, 0, 2], [-2, 0, 2], [-2, -1, 0], [-1.5, -1.0, -0.5, 0.0]],
         legend_anchor=(0.40, 0.0)),
    dict(letter="c", dates=months_c, ticks=ticks_c, xlim=("2010-01-01", "2020-10-05"),
         series=[[("YTLH2", ytlh2_1m), ("YTLH1", ytlh1_1m)],
                 [("YTLH2", ytlh2_2m), ("YTLH1", ytlh1_2m)],
                 [("YTLH2", ytlh2_3m), ("YTLH1", ytlh1_3m)],
                 [("YTLH2", ytlh2_4m), ("YTLH1", ytlh1_4m)],
                 [("YTLH2", ytlh2_5m), ("YTLH1", ytlh1_5m)]],
         ylims=[(-14, 9.5), (-6.1, 0.45), (-4.05, -0.05), (-2.85, -0.25), (-3.07, -0.05)],
         yticks=[[-10, -5, 0, 5], [-6, -4, -2, 0], [-4, -3, -2, -1], [-2, -1], [-3, -2, -1]],
         legend_anchor=(0.0, 0.0)),
]
depths = ["1m", "2m", "3m", "4m", "5m"]


def long_frame(dates, series):
    frames = []
    for name, vals in series:
        v = pd.Series(vals, dtype=float)
        assert len(v) == len(dates), (name, len(v), len(dates))
        run = v.isna().cumsum().astype(str)
        frames.append(pd.DataFrame({"date": dates, "GT": v.values,
                                    "series": name, "run": name + "_" + run.values}))
    return pd.concat(frames).dropna(subset=["GT"])


for ci, col in enumerate(columns):
    x0, x1 = col_px[ci]
    for ri in range(5):
        y0, y1 = row_px[ri]
        ax = fig.add_axes([x0 / W, 1 - y1 / H, (x1 - x0) / W, (y1 - y0) / H])
        series = col["series"][ri]
        order = [s[0] for s in series]
        df = long_frame(col["dates"], series)
        sns.lineplot(data=df, x="date", y="GT", hue="series", hue_order=order,
                     units="run", estimator=None, palette=palette,
                     marker=".", markersize=2.2, markeredgewidth=0,
                     linestyle=":", linewidth=0.6, legend=False, ax=ax)
        ax.set_xlim(pd.Timestamp(col["xlim"][0]), pd.Timestamp(col["xlim"][1]))
        ax.set_ylim(*col["ylims"][ri])
        ax.set_yticks(col["yticks"][ri])
        ax.set_xticks(pd.to_datetime(col["ticks"]))
        ax.set_xticklabels(col["ticks"])
        ax.set_xlabel("")
        ax.set_ylabel("GT ($^\\circ$C)", fontsize=4)
        ax.yaxis.set_label_coords(ylabel_x[ci], 0.5)
        ax.text(0.99, 0.04, "(%s$_%d$) %s" % (col["letter"], ri + 1, depths[ri]),
                transform=ax.transAxes, ha="right", va="bottom", fontsize=5, color="0.15")
        if ri == 4:
            handles = [Line2D([], [], color=palette[n], marker=".", markersize=3,
                              markeredgewidth=0, linestyle=":", linewidth=0.8) for n in order]
            ax.legend(handles, order, loc="lower left", bbox_to_anchor=col["legend_anchor"],
                      fontsize=4, frameon=True, handlelength=2.2, borderpad=0.5,
                      labelspacing=0.6, framealpha=0.9, edgecolor="0.8")

fig.savefig("out.png", dpi=100)
